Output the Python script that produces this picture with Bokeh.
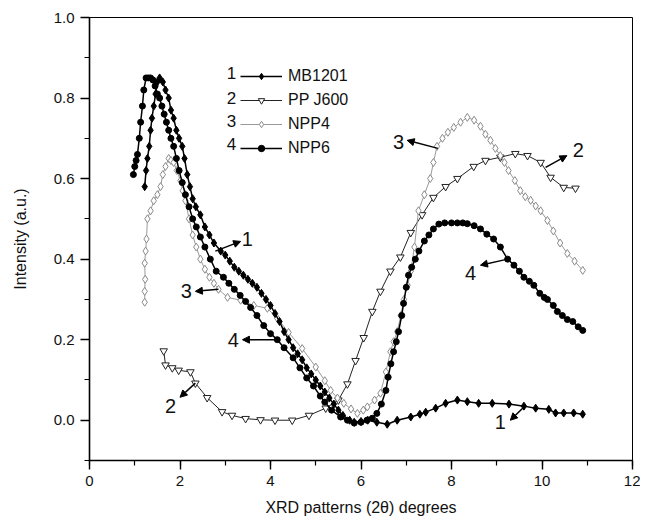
from bokeh.plotting import figure
from bokeh.models import (Legend, LegendItem, Label, Arrow, NormalHead,
                          FixedTicker, NumeralTickFormatter, Range1d)
from bokeh.embed import file_html
from bokeh.resources import INLINE

# ---------------- data ----------------
x_mb1201 = [1.22, 1.25, 1.28, 1.32, 1.35, 1.38, 1.42, 1.46, 1.50, 1.55, 1.62, 1.68, 1.75, 1.80,
            1.86, 1.92, 1.98, 2.05, 2.10, 2.16, 2.22, 2.28, 2.35, 2.45, 2.55, 2.65, 2.75, 2.90,
            3.00, 3.10, 3.20, 3.30, 3.40, 3.50, 3.60, 3.70, 3.80, 3.90, 4.00, 4.10, 4.20, 4.30,
            4.40, 4.50, 4.60, 4.70, 4.80, 4.90, 5.00, 5.10, 5.20, 5.30, 5.40, 5.50, 5.60, 5.75,
            5.85, 6.00, 6.15, 6.35, 6.58, 6.80, 7.10, 7.30, 7.43, 7.65, 7.87, 8.13, 8.35, 8.60,
            8.90, 9.27, 9.60, 9.86, 10.15, 10.30, 10.48, 10.70, 10.90]
y_mb1201 = [0.58, 0.62, 0.65, 0.68, 0.72, 0.75, 0.78, 0.81, 0.84, 0.85, 0.84, 0.82, 0.80, 0.77,
            0.75, 0.72, 0.70, 0.68, 0.65, 0.61, 0.58, 0.55, 0.53, 0.51, 0.48, 0.46, 0.44, 0.42,
            0.41, 0.395, 0.38, 0.37, 0.36, 0.35, 0.34, 0.33, 0.315, 0.30, 0.285, 0.265, 0.245, 0.22,
            0.20, 0.18, 0.165, 0.15, 0.13, 0.115, 0.10, 0.085, 0.07, 0.055, 0.04, 0.025, 0.012, 0.0,
            -0.005, -0.003, 0.0, -0.005, -0.01, 0.0, 0.008, 0.015, 0.02, 0.03, 0.042, 0.05, 0.046, 0.042,
            0.042, 0.04, 0.035, 0.03, 0.027, 0.018, 0.018, 0.018, 0.015]

x_ppj600 = [1.64, 1.68, 1.83, 1.97, 2.23, 2.34, 2.60, 2.93, 3.15, 3.45, 3.78, 4.10, 4.48, 4.85,
            5.22, 5.50, 5.70, 5.88, 6.06, 6.25, 6.43, 6.65, 6.87, 7.10, 7.35, 7.60, 7.87, 8.13,
            8.49, 8.75, 9.08, 9.41, 9.68, 9.97, 10.19, 10.48, 10.74]
y_ppj600 = [0.172, 0.137, 0.130, 0.124, 0.120, 0.092, 0.056, 0.021, 0.012, 0.004, 0.001, 0.0, 0.0, 0.012,
            0.030, 0.050, 0.090, 0.148, 0.205, 0.270, 0.320, 0.370, 0.405, 0.466, 0.510, 0.553, 0.580, 0.600,
            0.630, 0.645, 0.653, 0.662, 0.657, 0.640, 0.603, 0.578, 0.576]

x_npp4 = [1.22, 1.22, 1.23, 1.22, 1.24, 1.26, 1.28, 1.35, 1.42, 1.50, 1.57, 1.62, 1.68, 1.75,
          1.80, 1.86, 1.93, 2.01, 2.06, 2.12, 2.20, 2.28, 2.36, 2.45, 2.55, 2.65, 2.75, 2.85,
          3.05, 3.34, 3.63, 3.93, 4.15, 4.40, 4.70, 5.00, 5.20, 5.33, 5.48, 5.62, 5.78, 5.92,
          6.05, 6.14, 6.30, 6.43, 6.55, 6.65, 6.72, 6.80, 6.88, 6.95, 7.03, 7.10, 7.18, 7.27,
          7.40, 7.53, 7.60, 7.68, 7.80, 7.92, 8.05, 8.20, 8.35, 8.50, 8.64, 8.75, 8.86, 8.97,
          9.08, 9.17, 9.26, 9.40, 9.52, 9.63, 9.75, 9.86, 9.97, 10.12, 10.25, 10.40, 10.56,
          10.72, 10.90]
y_npp4 = [0.293, 0.32, 0.35, 0.39, 0.42, 0.45, 0.50, 0.52, 0.545, 0.56, 0.58, 0.61, 0.63, 0.65,
          0.645, 0.64, 0.62, 0.595, 0.57, 0.545, 0.50, 0.46, 0.43, 0.40, 0.375, 0.355, 0.34, 0.325,
          0.305, 0.298, 0.285, 0.278, 0.253, 0.218, 0.178, 0.132, 0.098, 0.074, 0.055, 0.042, 0.028, 0.017,
          0.025, 0.033, 0.05, 0.067, 0.12, 0.17, 0.195, 0.22, 0.26, 0.30, 0.335, 0.37, 0.43, 0.52,
          0.56, 0.60, 0.64, 0.68, 0.70, 0.715, 0.727, 0.74, 0.752, 0.745, 0.73, 0.71, 0.695, 0.675,
          0.657, 0.64, 0.62, 0.595, 0.57, 0.555, 0.546, 0.532, 0.52, 0.496, 0.47, 0.44, 0.414,
          0.395, 0.372]

x_npp6 = [0.97, 1.00, 1.03, 1.06, 1.10, 1.13, 1.17, 1.20, 1.25, 1.30, 1.35, 1.40, 1.45, 1.50,
          1.55, 1.60, 1.65, 1.70, 1.75, 1.80, 1.86, 1.92, 1.98, 2.05, 2.12, 2.20, 2.28, 2.36,
          2.45, 2.55, 2.67, 2.80, 2.96, 3.08, 3.20, 3.33, 3.45, 3.56, 3.70, 3.85, 4.00, 4.15,
          4.30, 4.50, 4.65, 4.80, 4.95, 5.10, 5.20, 5.35, 5.55, 5.70, 5.85, 6.00, 6.13, 6.25,
          6.35, 6.45, 6.55, 6.60, 6.66, 6.72, 6.78, 6.83, 6.90, 6.94, 7.00, 7.05, 7.12, 7.20,
          7.28, 7.40, 7.50, 7.60, 7.72, 7.85, 8.00, 8.13, 8.25, 8.35, 8.50, 8.64, 8.78, 8.93,
          9.08, 9.24, 9.38, 9.50, 9.60, 9.72, 9.82, 9.95, 10.05, 10.12, 10.25, 10.34, 10.45,
          10.56, 10.68, 10.80, 10.90]
y_npp6 = [0.61, 0.63, 0.645, 0.66, 0.70, 0.74, 0.78, 0.82, 0.85, 0.85, 0.85, 0.845, 0.83, 0.81,
          0.80, 0.78, 0.76, 0.74, 0.72, 0.70, 0.68, 0.65, 0.62, 0.59, 0.56, 0.53, 0.50, 0.48,
          0.455, 0.43, 0.40, 0.37, 0.355, 0.34, 0.325, 0.31, 0.295, 0.28, 0.26, 0.235, 0.215, 0.20,
          0.18, 0.155, 0.13, 0.105, 0.085, 0.06, 0.045, 0.025, 0.008, 0.0, -0.007, -0.005, 0.0, 0.005,
          0.017, 0.04, 0.074, 0.107, 0.14, 0.17, 0.195, 0.22, 0.26, 0.29, 0.33, 0.36, 0.38, 0.40,
          0.42, 0.445, 0.46, 0.475, 0.487, 0.49, 0.49, 0.49, 0.49, 0.488, 0.483, 0.475, 0.462, 0.45,
          0.43, 0.40, 0.385, 0.37, 0.355, 0.345, 0.335, 0.315, 0.305, 0.30, 0.285, 0.27, 0.26,
          0.25, 0.245, 0.232, 0.223]

series_names = ["MB1201", "PP J600", "NPP4", "NPP6"]
series_nums = ["1", "2", "3", "4"]
x_ticks = [0, 2, 4, 6, 8, 10, 12]
y_ticks = [0.0, 0.2, 0.4, 0.6, 0.8, 1.0]

# curve labels: (text, label x, label y, arrow tail x, tail y, head x, head y)
curve_labels = [
    ("1", 3.49, 0.45, 2.78, 0.42, 3.34, 0.444),
    ("3", 2.14, 0.32, 2.85, 0.325, 2.34, 0.32),
    ("4", 3.18, 0.20, 4.15, 0.20, 3.38, 0.20),
    ("2", 1.79, 0.035, 2.34, 0.092, 2.00, 0.057),
    ("3", 6.83, 0.69, 7.70, 0.675, 7.02, 0.695),
    ("2", 10.80, 0.67, 10.08, 0.628, 10.55, 0.657),
    ("4", 8.42, 0.365, 9.24, 0.40, 8.64, 0.385),
    ("1", 9.08, -0.005, 9.64, 0.037, 9.30, 0.0),
]

FONT = "Liberation Sans"

p = figure(width=640, height=518, output_backend="svg", toolbar_location=None,
           x_range=Range1d(0, 12), y_range=Range1d(-0.1, 1.0),
           min_border_left=89, min_border_right=8, min_border_top=17, min_border_bottom=58)
p.grid.visible = False
p.background_fill_color = "white"
p.outline_line_color = "black"
p.outline_line_width = 1

for ax in (p.xaxis[0], p.yaxis[0]):
    ax.axis_line_width = 1.6
    ax.major_tick_line_width = 1.4
    ax.minor_tick_line_width = 1.2
    ax.major_tick_out = 9
    ax.major_tick_in = 0
    ax.minor_tick_out = 5
    ax.minor_tick_in = 0
    ax.major_label_text_font = FONT
    ax.major_label_text_font_size = "15px"
    ax.major_label_text_color = "#111111"
    ax.axis_label_text_font = FONT
    ax.axis_label_text_font_size = "16px"
    ax.axis_label_text_font_style = "normal"
    ax.axis_label_text_color = "#111111"

p.xaxis.ticker = FixedTicker(ticks=x_ticks, minor_ticks=list(range(0, 13)))
p.yaxis.ticker = FixedTicker(ticks=y_ticks, minor_ticks=[round(-0.1 + 0.1 * i, 2) for i in range(12)])
p.yaxis.formatter = NumeralTickFormatter(format="0.0")
p.xaxis.axis_label = "XRD patterns (2\u03b8) degrees"
p.yaxis.axis_label = "Intensity (a.u.)"
p.xaxis.major_label_standoff = 6
p.yaxis.major_label_standoff = 6
p.xaxis.axis_label_standoff = 10
p.yaxis.axis_label_standoff = 22

# ---- series ----
l2 = p.line(x_ppj600, y_ppj600, line_color="#222222", line_width=1)
m2 = p.scatter(x_ppj600, y_ppj600, marker="inverted_triangle", size=7.5,
               fill_color="white", line_color="#222222", line_width=1)
l3 = p.line(x_npp4, y_npp4, line_color="#9a9a9a", line_width=1)
m3 = p.scatter(x_npp4, y_npp4, marker="diamond", size=8,
               fill_color="white", line_color="#8a8a8a", line_width=1)
l1 = p.line(x_mb1201, y_mb1201, line_color="black", line_width=1.5)
m1 = p.scatter(x_mb1201, y_mb1201, marker="diamond", size=8,
               fill_color="black", line_color="black")
l4 = p.line(x_npp6, y_npp6, line_color="black", line_width=1.5)
m4 = p.scatter(x_npp6, y_npp6, marker="circle", size=6,
               fill_color="black", line_color="black")

items = [LegendItem(label=series_names[0], renderers=[l1, m1]),
         LegendItem(label=series_names[1], renderers=[l2, m2]),
         LegendItem(label=series_names[2], renderers=[l3, m3]),
         LegendItem(label=series_names[3], renderers=[l4, m4])]
legend = Legend(items=items, location=(151, 303), border_line_color=None,
                background_fill_alpha=0, padding=0, margin=0, spacing=6,
                glyph_width=42, glyph_height=16, label_standoff=6,
                label_text_font=FONT, label_text_font_size="16px",
                label_text_color="#111111")
p.add_layout(legend)

legend_num_y = [0.863, 0.801, 0.744, 0.687]
for num, yy in zip(series_nums, legend_num_y):
    p.add_layout(Label(x=3.14, y=yy, text=num, text_align="center", text_baseline="middle",
                       text_font=FONT, text_font_size="17px", text_color="#111111"))

for txt, lx, ly, tx, ty, hx, hy in curve_labels:
    p.add_layout(Label(x=lx, y=ly, text=txt, text_align="center", text_baseline="middle",
                       text_font=FONT, text_font_size="20px", text_color="#111111"))
    p.add_layout(Arrow(x_start=tx, y_start=ty, x_end=hx, y_end=hy, line_width=1.5,
                       line_color="black",
                       end=NormalHead(size=7, fill_color="black", line_color="black")))

open("out.html", "w").write(file_html(p, INLINE))
